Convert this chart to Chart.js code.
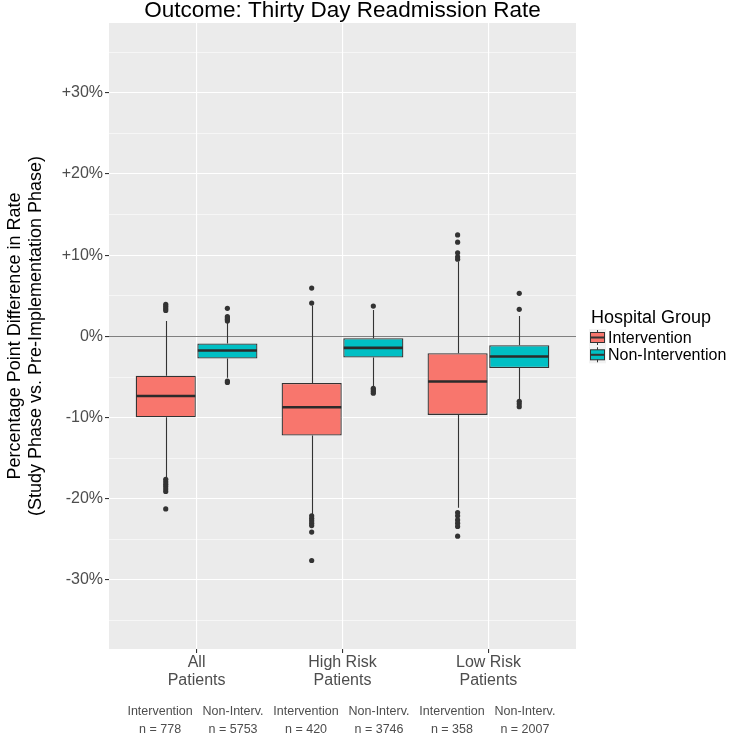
<!DOCTYPE html>
<html>
<head>
<meta charset="utf-8">
<script src="https://cdn.jsdelivr.net/npm/chart.js@4.4.1/dist/chart.umd.min.js"></script>
<style>
  html, body { margin: 0; padding: 0; background: #fff; }
</style>
</head>
<body>
<canvas id="myChart" width="750" height="750"></canvas>
<script>
// categories and groups
const GROUP_LABELS = [["All", "Patients"], ["High Risk", "Patients"], ["Low Risk", "Patients"]];
const SERIES = ["Intervention", "Non-Intervention"];
const SHORT_NAMES = ["Intervention", "Non-Interv."];
const N_INT = [778, 420, 358];
const N_NON = [5753, 3746, 2007];

// y ticks (percentage points); labels only on the tens
const Y_TICKS = [-35, -30, -25, -20, -15, -10, -5, 0, 5, 10, 15, 20, 25, 30, 35];

// box stats, intervention hospitals
const INT_LOW = [-17.5, -22.0, -21.1];
const INT_Q1 = [-9.96, -12.2, -9.67];
const INT_MED = [-7.34, -8.73, -5.55];
const INT_Q3 = [-4.85, -5.74, -2.06];
const INT_HIGH = [1.9, 3.8, 9.2];
const INT_OUT = [
  [3.95, 3.7, 3.45, 3.2, -17.6, -17.9, -18.2, -18.5, -18.8, -19.1, -21.25],
  [5.95, 4.1, -22.1, -22.4, -22.7, -23.0, -23.3, -24.1, -27.6],
  [12.5, 11.6, 10.3, 9.8, 9.5, -21.7, -22.1, -22.6, -23.0, -23.4, -24.6]
];

// box stats, non-intervention hospitals
const NON_LOW = [-5.1, -6.15, -7.7];
const NON_Q1 = [-2.72, -2.6, -3.9];
const NON_MED = [-1.74, -1.41, -2.47];
const NON_Q3 = [-0.88, -0.22, -1.08];
const NON_HIGH = [1.75, 3.25, 2.5];
const NON_OUT = [
  [3.46, 2.45, 2.3, 2.1, 1.9, -5.5, -5.67],
  [3.74, -6.4, -6.6, -6.8, -7.0],
  [5.3, 3.34, -8.0, -8.3, -8.65]
];

const CAT_PCT = 0.845;
const DODGE = CAT_PCT / 4;   // centre of each dodged box, in category units
const NOTE_OFFSET = 0.25;
const FONT = "'Liberation Sans', Arial, sans-serif";
const COLORS = ["#F8766D", "#00BFC4"];

function outlierPoints(out, side) {
  const pts = [];
  out.forEach((vals, g) => vals.forEach(v => pts.push({ x: g + side * DODGE, y: v })));
  return pts;
}

const STATS = [
  { low: INT_LOW, med: INT_MED, high: INT_HIGH, q1: INT_Q1, q3: INT_Q3 },
  { low: NON_LOW, med: NON_MED, high: NON_HIGH, q1: NON_Q1, q3: NON_Q3 }
];

const boxPlugin = {
  id: "boxParts",
  beforeDraw(chart) {
    const { ctx, chartArea: a } = chart;
    ctx.save();
    ctx.fillStyle = "#EBEBEB";
    ctx.fillRect(a.left, a.top, a.right - a.left, a.bottom - a.top);
    ctx.restore();
  },
  beforeDatasetsDraw(chart) {
    const { ctx, chartArea: a } = chart;
    const y = chart.scales.y;
    ctx.save();
    // zero reference line
    ctx.strokeStyle = "#7F7F7F";
    ctx.lineWidth = 1;
    ctx.beginPath();
    ctx.moveTo(a.left, Math.round(y.getPixelForValue(0)) + 0.5);
    ctx.lineTo(a.right, Math.round(y.getPixelForValue(0)) + 0.5);
    ctx.stroke();
    // whiskers
    ctx.strokeStyle = "#333333";
    ctx.lineWidth = 1.1;
    [2, 3].forEach((di, s) => {
      chart.getDatasetMeta(di).data.forEach((bar, i) => {
        const x = Math.round(bar.x) + 0.5;
        ctx.beginPath();
        ctx.moveTo(x, y.getPixelForValue(STATS[s].q3[i]));
        ctx.lineTo(x, y.getPixelForValue(STATS[s].high[i]));
        ctx.moveTo(x, y.getPixelForValue(STATS[s].q1[i]));
        ctx.lineTo(x, y.getPixelForValue(STATS[s].low[i]));
        ctx.stroke();
      });
    });
    ctx.restore();
  },
  afterDatasetsDraw(chart) {
    const { ctx } = chart;
    const y = chart.scales.y;
    ctx.save();
    ctx.strokeStyle = "#2b2b2b";
    ctx.lineWidth = 2.6;
    [2, 3].forEach((di, s) => {
      chart.getDatasetMeta(di).data.forEach((bar, i) => {
        const py = y.getPixelForValue(STATS[s].med[i]);
        ctx.beginPath();
        ctx.moveTo(bar.x - bar.width / 2 + 0.5, py);
        ctx.lineTo(bar.x + bar.width / 2 - 0.5, py);
        ctx.stroke();
      });
    });
    ctx.restore();
  },
  afterDraw(chart) {
    const { ctx, chartArea: a } = chart;
    const x = chart.scales.x;
    ctx.save();
    // group sizes under the axis
    ctx.fillStyle = "#4D4D4D";
    ctx.font = "12.5px " + FONT;
    ctx.textAlign = "center";
    ctx.textBaseline = "alphabetic";
    GROUP_LABELS.forEach((_, g) => {
      [[-1, SHORT_NAMES[0], N_INT[g]], [1, SHORT_NAMES[1], N_NON[g]]].forEach(([side, name, n]) => {
        const px = x.getPixelForValue(g + side * NOTE_OFFSET);
        ctx.fillText(name, px, a.bottom + 66);
        ctx.fillText("n = " + n, px, a.bottom + 84);
      });
    });
    // legend
    ctx.textAlign = "left";
    ctx.fillStyle = "#000";
    ctx.font = "18px " + FONT;
    ctx.fillText("Hospital Group", 591, 323);
    ctx.font = "16px " + FONT;
    ctx.textBaseline = "middle";
    SERIES.forEach((name, s) => {
      const kx = 589, ky = 329 + s * 17.3, k = 17;
      ctx.fillStyle = "#F2F2F2";
      ctx.fillRect(kx, ky, k, k);
      ctx.strokeStyle = "#333333";
      ctx.lineWidth = 1;
      ctx.beginPath();
      ctx.moveTo(kx + k / 2, ky + 1);
      ctx.lineTo(kx + k / 2, ky + k - 1);
      ctx.stroke();
      ctx.fillStyle = COLORS[s];
      ctx.fillRect(kx + 1.5, ky + 3.5, k - 3, k - 7);
      ctx.strokeRect(kx + 1.5, ky + 3.5, k - 3, k - 7);
      ctx.lineWidth = 2;
      ctx.beginPath();
      ctx.moveTo(kx + 1.5, ky + k / 2);
      ctx.lineTo(kx + k - 1.5, ky + k / 2);
      ctx.stroke();
      ctx.fillStyle = "#000";
      ctx.fillText(name, kx + k + 2, ky + k / 2 + 1);
    });
    ctx.restore();
  }
};

const boxData = (q1, q3) => q1.map((q, i) => ({ x: i, y: [q, q3[i]] }));

new Chart(document.getElementById("myChart"), {
  type: "bar",
  data: {
    datasets: [
      { type: "scatter", label: "out1", data: outlierPoints(INT_OUT, -1),
        pointRadius: 2.6, pointBackgroundColor: "#333333", pointBorderWidth: 0 },
      { type: "scatter", label: "out2", data: outlierPoints(NON_OUT, 1),
        pointRadius: 2.6, pointBackgroundColor: "#333333", pointBorderWidth: 0 },
      { type: "bar", label: SERIES[0], data: boxData(INT_Q1, INT_Q3),
        backgroundColor: COLORS[0], borderColor: "#333333", borderWidth: 1.3, borderSkipped: false,
        categoryPercentage: CAT_PCT, barPercentage: 0.975 },
      { type: "bar", label: SERIES[1], data: boxData(NON_Q1, NON_Q3),
        backgroundColor: COLORS[1], borderColor: "#333333", borderWidth: 1.3, borderSkipped: false,
        categoryPercentage: CAT_PCT, barPercentage: 0.975 }
    ]
  },
  options: {
    responsive: false,
    animation: false,
    layout: { padding: { left: 0, right: 174, top: 0, bottom: 0 } },
    plugins: {
      legend: { display: false },
      tooltip: { enabled: false },
      title: {
        display: true,
        fullSize: false,
        text: "Outcome: Thirty Day Readmission Rate",
        color: "#000",
        font: { family: FONT, size: 22.5, weight: "normal", lineHeight: 1 },
        padding: { top: 0, bottom: 0.5 }
      }
    },
    scales: {
      x: {
        type: "linear",
        min: -0.6,
        max: 2.6,
        offset: false,
        afterBuildTicks: (scale) => { scale.ticks = GROUP_LABELS.map((_, i) => ({ value: i })); },
        afterFit: (scale) => { scale.height = 101; },
        border: { display: false },
        grid: { offset: false, color: "#FFFFFF", lineWidth: 1.1, tickLength: 4, tickColor: "#333333" },
        ticks: {
          autoSkip: false, maxRotation: 0, padding: 1,
          color: "#4D4D4D",
          font: { family: FONT, size: 16, lineHeight: 1.125 },
          callback: (v) => GROUP_LABELS[v]
        }
      },
      y: {
        type: "linear",
        min: -38.5,
        max: 38.6,
        afterBuildTicks: (scale) => { scale.ticks = Y_TICKS.map(v => ({ value: v })); },
        afterFit: (scale) => { scale.width = 109; },
        border: { display: false },
        grid: {
          color: "#FFFFFF",
          lineWidth: (c) => (c.tick && c.tick.value % 10 === 0 ? 1.1 : 0.55),
          tickLength: 4,
          tickColor: (c) => (c.tick && c.tick.value % 10 === 0 ? "#333333" : "rgba(0,0,0,0)")
        },
        ticks: {
          autoSkip: false, padding: 2,
          color: "#4D4D4D",
          font: { family: FONT, size: 16 },
          callback: (v) => (v % 10 === 0 ? (v > 0 ? "+" : "") + v + "%" : "")
        },
        title: {
          display: true,
          text: ["Percentage Point Difference in Rate", "(Study Phase vs. Pre-Implementation Phase)"],
          color: "#000",
          font: { family: FONT, size: 18, lineHeight: 1.2 },
          padding: { top: 4, bottom: 0 }
        }
      }
    }
  },
  plugins: [boxPlugin]
});
</script>
</body>
</html>
